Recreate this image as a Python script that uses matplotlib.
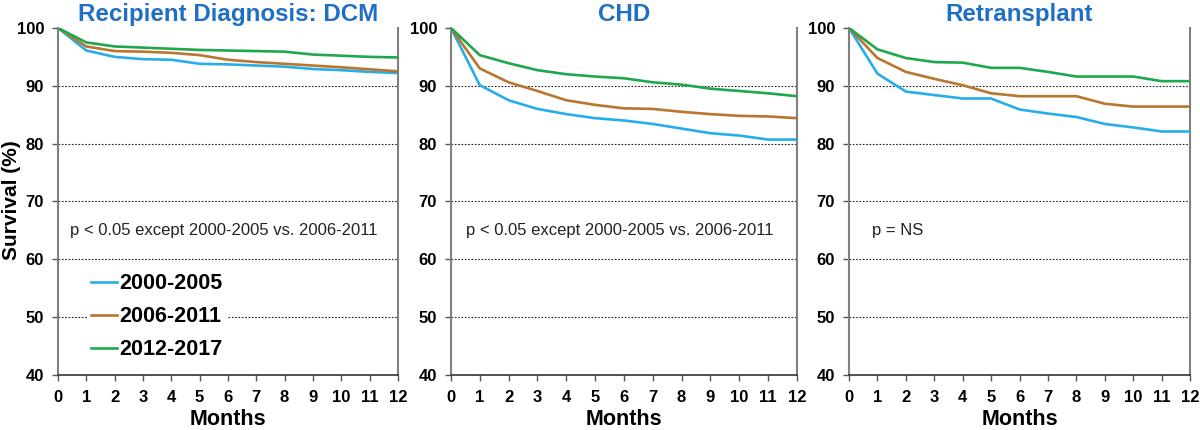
import matplotlib.pyplot as plt

plt.rcParams['font.family'] = ['Liberation Sans', 'DejaVu Sans']

months = list(range(13))
periods = ["2000-2005", "2006-2011", "2012-2017"]
colors = ["#27aee8", "#b8762f", "#1ea84b"]

# Survival (%) by recipient diagnosis, one list per era
dcm_2000 = [100, 96.1, 95.0, 94.6, 94.5, 93.8, 93.7, 93.5, 93.3, 92.9, 92.7, 92.4, 92.2]
dcm_2006 = [100, 96.8, 96.0, 95.9, 95.7, 95.3, 94.5, 94.1, 93.8, 93.5, 93.2, 92.85, 92.5]
dcm_2012 = [100, 97.5, 96.8, 96.6, 96.4, 96.2, 96.1, 96.0, 95.9, 95.4, 95.2, 95.0, 94.9]

chd_2000 = [100, 90.1, 87.5, 86.0, 85.1, 84.4, 84.0, 83.4, 82.6, 81.8, 81.4, 80.7, 80.7]
chd_2006 = [100, 93.0, 90.6, 89.1, 87.5, 86.7, 86.1, 86.0, 85.5, 85.1, 84.8, 84.7, 84.4]
chd_2012 = [100, 95.3, 93.9, 92.7, 92.0, 91.6, 91.3, 90.6, 90.2, 89.5, 89.1, 88.7, 88.2]

re_2000 = [100, 92.1, 89.0, 88.4, 87.8, 87.8, 85.9, 85.2, 84.6, 83.4, 82.8, 82.1, 82.1]
re_2006 = [100, 94.8, 92.4, 91.2, 90.1, 88.7, 88.2, 88.2, 88.2, 86.9, 86.4, 86.4, 86.4]
re_2012 = [100, 96.3, 94.8, 94.1, 94.0, 93.1, 93.1, 92.4, 91.6, 91.6, 91.6, 90.8, 90.8]

titles = ["Recipient Diagnosis: DCM", "CHD", "Retransplant"]
notes = ["p < 0.05 except 2000-2005 vs. 2006-2011",
         "p < 0.05 except 2000-2005 vs. 2006-2011",
         "p = NS"]
panels = [[dcm_2000, dcm_2006, dcm_2012],
          [chd_2000, chd_2006, chd_2012],
          [re_2000, re_2006, re_2012]]

fig = plt.figure(figsize=(12, 4.3), dpi=100)
boxes = [[0.0483, 0.128, 0.2833, 0.807],
         [0.3758, 0.128, 0.2883, 0.807],
         [0.7075, 0.128, 0.2842, 0.807]]
note_x = [0.035, 0.043, 0.067]

for i, box in enumerate(boxes):
    ax = fig.add_axes(box)
    for series, c, lab in zip(panels[i], colors, periods):
        ax.plot(months, series, color=c, lw=1.9, label=lab, zorder=3)
    ax.set_xlim(0, 12)
    ax.set_ylim(40, 100)
    ax.set_xticks(months)
    ax.set_yticks([40, 50, 60, 70, 80, 90, 100])
    for y in [50, 60, 70, 80, 90]:
        ax.axhline(y, color="#222222", lw=0.8, ls=(0, (1.5, 1.5)), zorder=1)
    for s in ["left", "right"]:
        ax.spines[s].set_color("#808080")
        ax.spines[s].set_linewidth(1.5)
    ax.spines["bottom"].set_color("#333333")
    ax.spines["bottom"].set_linewidth(1.2)
    ax.spines["top"].set_visible(False)
    ax.tick_params(axis="both", labelsize=12, length=4, width=1, color="#555555")
    ax.tick_params(axis="x", pad=7)
    ax.tick_params(axis="y", pad=6)
    for t in ax.get_xticklabels() + ax.get_yticklabels():
        t.set_fontweight("bold")
    ax.set_xlabel("Months", fontsize=15.5, fontweight="bold", labelpad=3)
    ax.set_title(titles[i], fontsize=17.4, fontweight="bold", color="#1f6fc5", pad=5)
    ax.text(note_x[i], 0.417, notes[i], transform=ax.transAxes, fontsize=12,
            color="#222222", va="center")
    if i == 0:
        leg = ax.legend(loc="upper left", bbox_to_anchor=(0.085, 0.305), frameon=True,
                        handlelength=1.2, handletextpad=0.1, labelspacing=0.55,
                        borderpad=0.2, borderaxespad=0,
                        prop={"weight": "bold", "size": 15.5})
        leg.get_frame().set_facecolor("white")
        leg.get_frame().set_edgecolor("none")
        leg.get_frame().set_alpha(1)
        leg.set_zorder(2)

fig.text(0.002, 0.535, "Survival (%)", rotation=90, ha="left", va="center",
         fontsize=15, fontweight="bold")

fig.savefig("out.png", dpi=100)
